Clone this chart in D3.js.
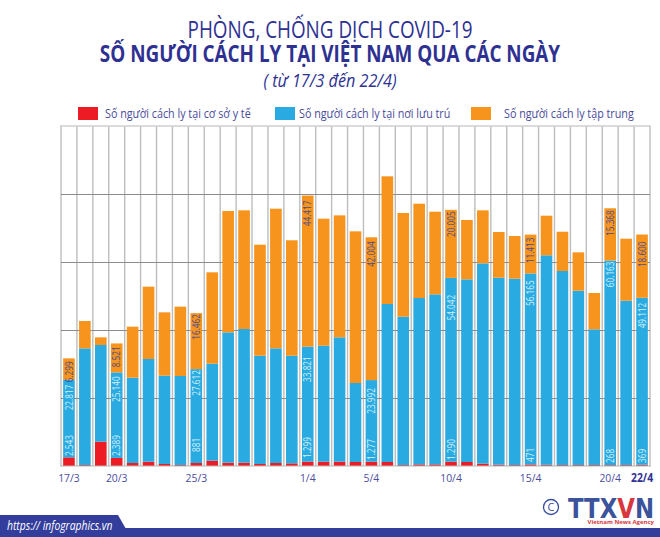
<!doctype html>
<html lang="vi">
<title>Số người cách ly</title>
<meta charset="utf-8">
<script src="https://d3js.org/d3.v7.min.js"></script>
<style>
  body { margin: 0; background: #fff; }
  svg { display: block; font-family: "Open Sans", sans-serif; }
</style>
<body>
<div id="chart"></div>
<script>
  var days = ["17/3","18/3","19/3","20/3","21/3","22/3","23/3","24/3","25/3","26/3","27/3","28/3","29/3","30/3","31/3",
    "1/4","2/4","3/4","4/4","5/4","6/4","7/4","8/4","9/4","10/4","11/4","12/4","13/4","14/4","15/4","16/4","17/4","18/4","19/4","20/4","21/4","22/4"];
  var shownDays = ["17/3","20/3","25/3","1/4","5/4","10/4","15/4","20/4","22/4"];

  var coSoYTe = [2543,300,7160,2389,880,1270,590,300,881,1570,980,980,590,880,780,1299,1270,1270,1180,1277,1180,300,490,490,1290,1180,700,400,300,471,350,300,300,300,268,300,369];
  var noiLuuTru = [22817,34300,28430,25140,25100,30200,25980,26170,27612,28530,38330,39310,31850,33730,31660,33821,34120,36570,23230,23992,46470,43620,48920,50000,54042,53720,58900,54990,54800,56165,61620,57050,51260,39900,60163,48320,49112];
  var tapTrung = [6299,8050,2250,8521,15000,21270,18620,20390,16462,26860,35690,34910,32650,41070,33950,44417,37350,35880,44610,42004,37550,30490,27740,24310,20005,17450,15600,13430,12550,11413,11650,11550,11280,10680,15368,18230,18600];

  var labelledDays = ["17/3","20/3","25/3","1/4","5/4","10/4","15/4","20/4","22/4"];
  var legendNames = ["Số người cách ly tại cơ sở y tế","Số người cách ly tại nơi lưu trú","Số người cách ly tập trung"];

  // nudges for the value labels, same order as labelledDays
  var gapOrange = [3,3,1,5,4,1.5,3,2,7];
  var gapBlue = [5,4,1,9.7,8,17,7,1,5];
  var gapRed = [10,10,14,8,6,6,4,3,3];

  var navy = "#2e3192", labelInk = "#4a4c9c";
  var colors = ["#ed1c24","#29abe2","#f7941d"];
  var keys = ["red","blue","orange"];

  var svg = d3.select("#chart").append("svg").attr("width", 660).attr("height", 537);

  // squeeze text to look like the condensed face of the original
  function squeeze(sel, k) {
    sel.each(function () {
      var len = this.getComputedTextLength();
      d3.select(this).attr("textLength", len * k).attr("lengthAdjust", "spacingAndGlyphs");
    });
  }

  // titles
  svg.append("text").attr("x", 330).attr("y", 38).attr("text-anchor", "middle")
    .attr("font-size", 23).attr("fill", navy).text("PHÒNG, CHỐNG DỊCH COVID-19").call(squeeze, 0.82);
  svg.append("text").attr("x", 330).attr("y", 62).attr("text-anchor", "middle")
    .attr("font-size", 23).attr("font-weight", 700).attr("fill", navy).text("SỐ NGƯỜI CÁCH LY TẠI VIỆT NAM QUA CÁC NGÀY").call(squeeze, 0.82);
  svg.append("text").attr("x", 330).attr("y", 87).attr("text-anchor", "middle")
    .attr("font-size", 18).attr("font-style", "italic").attr("fill", navy).text("( từ 17/3 đến 22/4)").call(squeeze, 0.9);

  // legend
  var legendX = [78, 275, 471], legendTextX = [105, 299, 504];
  legendNames.forEach(function (name, i) {
    svg.append("rect").attr("x", legendX[i]).attr("y", 107).attr("width", 20).attr("height", 13).attr("fill", colors[i]);
    svg.append("text").attr("x", legendTextX[i]).attr("y", 118).attr("font-size", 12.5).attr("fill", labelInk)
      .text(name).call(squeeze, 0.86);
  });

  // scales
  var x = d3.scaleBand().domain(days).range([61, 650]).paddingInner(0.27).paddingOuter(0.135);
  var y = d3.scaleLinear().domain([0, 100000]).range([466, 126]);
  var edge = x.step() * 0.135;

  // grid
  svg.append("g").selectAll("line").data(days.concat(["end"])).join("line")
    .attr("x1", function (d) { return d === "end" ? 650 : x(d) - edge; })
    .attr("x2", function (d) { return d === "end" ? 650 : x(d) - edge; })
    .attr("y1", 126).attr("y2", 466)
    .attr("stroke", "#bdbdbd").attr("stroke-width", 1.4);

  var yAxis = svg.append("g").attr("transform", "translate(61,0)")
    .call(d3.axisLeft(y).tickValues([20000, 40000, 60000, 80000]).tickSize(-589).tickFormat(""));
  yAxis.select(".domain").remove();
  yAxis.selectAll("line").attr("stroke", "#8c8c8c").attr("stroke-width", 1);

  svg.append("line").attr("x1", 60).attr("x2", 651).attr("y1", 126).attr("y2", 126).attr("stroke", "#cfcfcf").attr("stroke-width", 1.5);

  // stacked bars
  var table = days.map(function (d, i) {
    return { day: d, red: coSoYTe[i], blue: noiLuuTru[i], orange: tapTrung[i] };
  });
  var layers = d3.stack().keys(keys)(table);

  svg.append("g").selectAll("g").data(layers).join("g")
    .attr("fill", function (d, i) { return colors[i]; })
    .selectAll("rect").data(function (d) { return d; }).join("rect")
    .attr("x", function (d) { return x(d.data.day); })
    .attr("width", x.bandwidth())
    .attr("y", function (d) { return y(d[1]); })
    .attr("height", function (d) { return y(d[0]) - y(d[1]); });

  svg.append("line").attr("x1", 60).attr("x2", 651).attr("y1", 466).attr("y2", 466).attr("stroke", "#b5b5b5").attr("stroke-width", 1);

  // value labels
  var fmt = d3.formatLocale({ decimal: ",", thousands: ".", grouping: [3], currency: ["", ""] }).format(",");
  var labelG = svg.append("g").attr("font-size", 10);

  function valueLabel(day, value, py, anchor, fill) {
    labelG.append("text")
      .attr("transform", "translate(" + (x(day) + x.bandwidth() / 2) + "," + py + ") rotate(-90)")
      .attr("text-anchor", anchor).attr("dy", "0.36em").attr("fill", fill)
      .text(fmt(value)).call(squeeze, 0.82);
  }

  labelledDays.forEach(function (day, n) {
    var i = days.indexOf(day);
    valueLabel(day, coSoYTe[i], y(0) - gapRed[n], "start", "#d4eefa");
    valueLabel(day, noiLuuTru[i], y(coSoYTe[i] + noiLuuTru[i]) + gapBlue[n], "end", "#d4eefa");
    valueLabel(day, tapTrung[i], y(coSoYTe[i] + noiLuuTru[i] + tapTrung[i]) + gapOrange[n], "end", "#4a4c8c");
  });

  // day axis
  var xAxis = svg.append("g").attr("transform", "translate(0,466)")
    .call(d3.axisBottom(x).tickValues(shownDays).tickSize(0).tickPadding(8));
  xAxis.select(".domain").remove();
  xAxis.selectAll("text")
    .attr("font-family", "'Open Sans', sans-serif").attr("font-size", 11.5)
    .attr("fill", function (d) { return d === "22/4" ? navy : labelInk; })
    .attr("font-weight", function (d) { return d === "22/4" ? 700 : 400; })
    .call(squeeze, 0.9);

  // footer
  svg.append("rect").attr("x", 0).attr("y", 528).attr("width", 660).attr("height", 9).attr("fill", "#333d9c");
  svg.append("path").attr("d", d3.line()([[0, 515], [118, 515], [126, 529], [0, 529]])).attr("fill", "#333d9c");
  svg.append("text").attr("x", 7).attr("y", 530).attr("font-size", 12).attr("font-style", "italic")
    .attr("fill", "#fff").text("https:// infographics.vn").call(squeeze, 0.86);

  // logo
  svg.append("circle").attr("cx", 551).attr("cy", 507).attr("r", 7.5).attr("fill", "none").attr("stroke", "#3a4fa0").attr("stroke-width", 1.3);
  svg.append("text").attr("x", 551).attr("y", 511).attr("text-anchor", "middle").attr("font-size", 11).attr("fill", "#3a4fa0").text("C");
  var logo = svg.append("text").attr("x", 568).attr("y", 517.5).attr("font-size", 26).attr("font-weight", 700)
    .attr("font-family", "'DejaVu Sans', sans-serif").attr("fill", "#3a539b");
  logo.append("tspan").text("TTX");
  logo.append("tspan").attr("fill", "#d9363e").text("V");
  logo.append("tspan").text("N");
  logo.attr("textLength", 86).attr("lengthAdjust", "spacingAndGlyphs");
  svg.append("text").attr("x", 654).attr("y", 524).attr("text-anchor", "end").attr("font-size", 6)
    .attr("font-weight", 700).attr("fill", "#d9363e").text("Vietnam News Agency");
</script>
</body>
</html>
